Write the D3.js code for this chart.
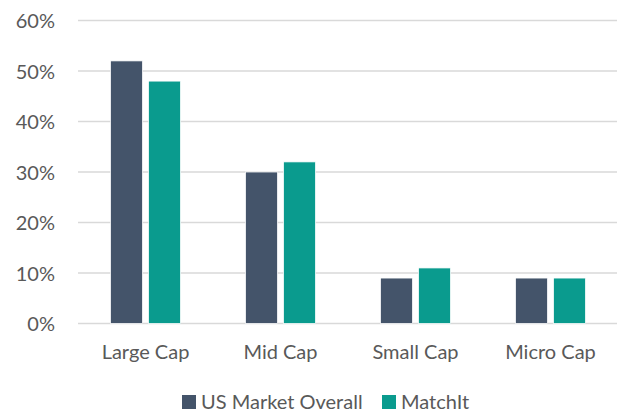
<!DOCTYPE html>
<html>
<head>
<meta charset="utf-8">
<script src="https://cdnjs.cloudflare.com/ajax/libs/d3/7.8.5/d3.min.js"></script>
<style>
  body { margin: 0; background: #fff; }
  svg text { font-family: Lato, "Open Sans", sans-serif; fill: #595959; }
</style>
</head>
<body>
<svg id="chart" width="617" height="414"></svg>
<script>
(function(){
    var categories = ['Large Cap', 'Mid Cap', 'Small Cap', 'Micro Cap'];
    var seriesNames = ['US Market Overall', 'MatchIt'];
    var usMarket = [52, 30, 9, 9];
    var matchIt = [48, 32, 11, 9];
    var yTicks = [0, 10, 20, 30, 40, 50, 60];

    var colors = ['#44546A', '#0A9B8E'];
    var font = 'Lato, "Open Sans", sans-serif';

    var m = {left: 78, right: 618, top: 20.5, bottom: 323.5};

    var svg = d3.select('#chart');

    var x = d3.scaleBand()
        .domain(categories)
        .range([m.left, m.right]);

    // two bars 32px wide, 6px apart, centred in each band
    var xs = d3.scaleBand()
        .domain(seriesNames)
        .range([x.bandwidth()/2 - 35, x.bandwidth()/2 + 35])
        .paddingInner(6/38);

    var y = d3.scaleLinear()
        .domain([0, 60])
        .range([m.bottom, m.top]);

    // gridlines
    svg.append('g')
        .selectAll('line')
        .data(yTicks)
        .enter().append('line')
        .attr('x1', m.left)
        .attr('x2', 617)
        .attr('y1', function(d){ return y(d) })
        .attr('y2', function(d){ return y(d) })
        .style('stroke', '#D9D9D9')
        .style('stroke-width', 1.5);

    // y labels
    var yAxis = d3.axisLeft(y)
        .tickValues(yTicks)
        .tickFormat(function(d){ return d + '%' })
        .tickSize(0)
        .tickPadding(0);
    var ya = svg.append('g')
        .attr('transform', 'translate(55,0)')
        .call(yAxis);
    ya.select('.domain').remove();
    ya.selectAll('text')
        .attr('dy', '0.36em')
        .style('font-size', '20px')
        .style('font-family', font)
        .attr('fill', '#595959');

    // x labels
    var xAxis = d3.axisBottom(x).tickSize(0).tickPadding(0);
    var xa = svg.append('g')
        .attr('transform', 'translate(0,358.5)')
        .call(xAxis);
    xa.select('.domain').remove();
    xa.selectAll('text')
        .attr('y', 0)
        .attr('dy', 0)
        .style('font-size', '20px')
        .style('font-family', font)
        .attr('fill', '#595959');

    var series = [usMarket, matchIt];

    var groups = svg.append('g').selectAll('g')
        .data(categories)
        .enter().append('g')
        .attr('transform', function(d){ return 'translate(' + x(d) + ',0)' });

    groups.selectAll('rect')
        .data(function(d, i){
            return seriesNames.map(function(s, j){ return {s: s, v: series[j][i], c: colors[j]} });
        })
        .enter().append('rect')
        .attr('x', function(d){ return xs(d.s) })
        .attr('width', xs.bandwidth())
        .attr('y', function(d){ return y(d.v) })
        .attr('height', function(d){ return y(0) - y(d.v) })
        .style('fill', function(d){ return d.c })
        .style('stroke', '#fff')
        .style('stroke-width', 0.75);

    // legend
    var legendPos = [182, 382];
    var lg = svg.append('g').selectAll('g')
        .data(seriesNames)
        .enter().append('g')
        .attr('transform', function(d, i){ return 'translate(' + legendPos[i] + ',395)' });
    lg.append('rect')
        .attr('width', 14)
        .attr('height', 14)
        .style('fill', function(d, i){ return colors[i] });
    lg.append('text')
        .attr('x', 19)
        .attr('y', 13.5)
        .style('font-size', '20px')
        .text(function(d){ return d });
})();
</script>
</body>
</html>
